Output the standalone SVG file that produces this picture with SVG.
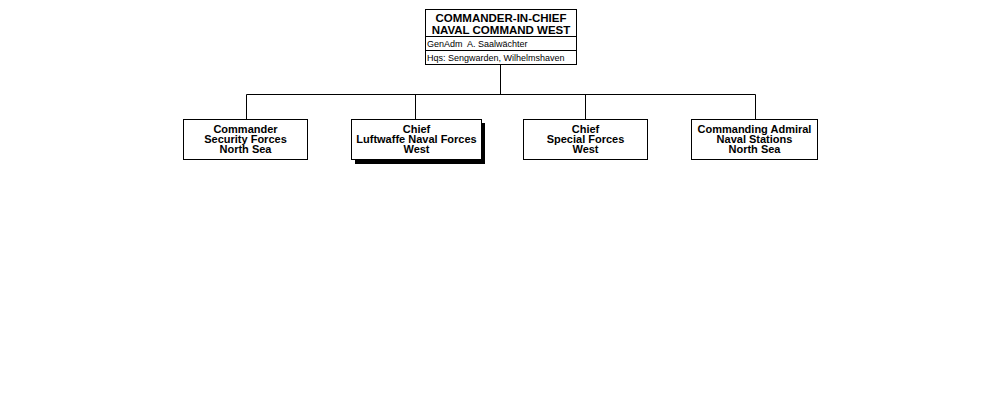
<svg xmlns="http://www.w3.org/2000/svg" width="1000" height="400" viewBox="0 0 1000 400">
<style>
.box{fill:#fff;stroke:#000;stroke-width:1}
.ln{stroke:#000;stroke-width:1;fill:none}
.t{font-family:"Liberation Sans",Arial,sans-serif;font-weight:bold;font-size:11px;text-anchor:middle;fill:#000}
.h{font-family:"Liberation Sans",Arial,sans-serif;font-weight:bold;font-size:11.5px;text-anchor:middle;fill:#000}
.s{font-family:"Liberation Sans",Arial,sans-serif;font-size:9px;fill:#000}
</style>
<rect width="1000" height="400" fill="#fff"/>
<g id="connectors">
<path class="ln" d="M500.5 64.5V94.5M246.5 94.5H755.5M246.5 94.5V119M415.5 94.5V119M585.5 94.5V119M755.5 94.5V119"/>
</g>
<g id="cinc">
<rect class="box" x="425.5" y="9.5" width="151" height="55"/>
<line class="ln" x1="425.5" y1="36.5" x2="576.5" y2="36.5"/>
<line class="ln" x1="425.5" y1="50.5" x2="576.5" y2="50.5"/>
<text class="h" x="501" y="22">COMMANDER-IN-CHIEF</text>
<text class="h" x="501" y="34">NAVAL COMMAND WEST</text>
<text class="s" x="427" y="47" xml:space="preserve">GenAdm  A. Saalwächter</text>
<text class="s" x="427" y="61">Hqs: Sengwarden, Wilhelmshaven</text>
</g>
<g id="security">
<rect class="box" x="183.5" y="119.5" width="124" height="40"/>
<text class="t" x="245.5" y="133">Commander</text>
<text class="t" x="245.5" y="143">Security Forces</text>
<text class="t" x="245.5" y="153">North Sea</text>
</g>
<g id="luftwaffe">
<rect x="355" y="123" width="130" height="41" fill="#000"/>
<rect class="box" x="351.5" y="119.5" width="130" height="40"/>
<text class="t" x="416.5" y="133">Chief</text>
<text class="t" x="416.5" y="143">Luftwaffe Naval Forces</text>
<text class="t" x="416.5" y="153">West</text>
</g>
<g id="special">
<rect class="box" x="523.5" y="119.5" width="124" height="40"/>
<text class="t" x="585.5" y="133">Chief</text>
<text class="t" x="585.5" y="143">Special Forces</text>
<text class="t" x="585.5" y="153">West</text>
</g>
<g id="stations">
<rect class="box" x="691.5" y="119.5" width="126" height="40"/>
<text class="t" x="754.5" y="133">Commanding Admiral</text>
<text class="t" x="754.5" y="143">Naval Stations</text>
<text class="t" x="754.5" y="153">North Sea</text>
</g>
</svg>
